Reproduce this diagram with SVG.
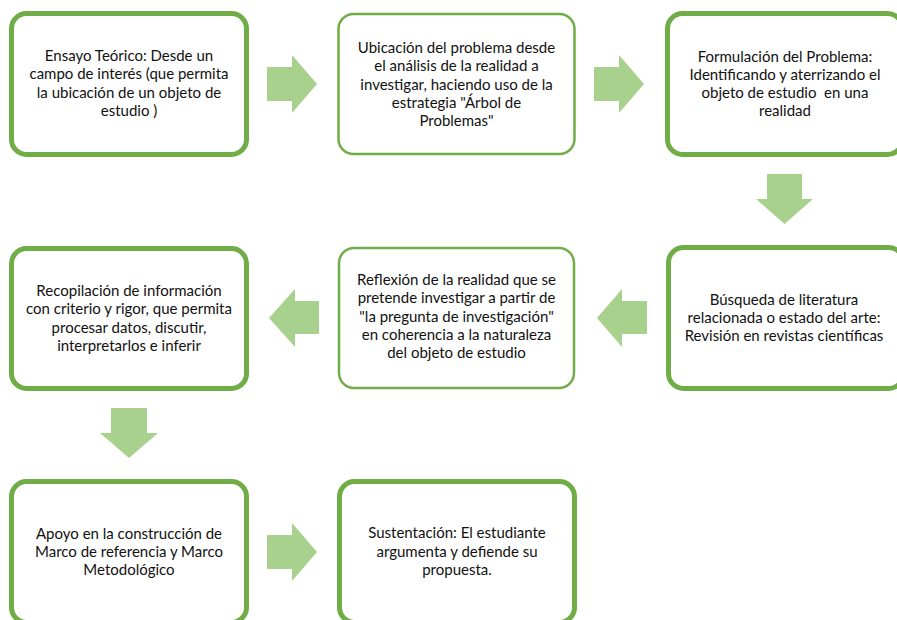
<svg xmlns="http://www.w3.org/2000/svg" width="897" height="620" viewBox="0 0 897 620">
<style>
.box{fill:#ffffff;stroke:#70AD47;}
.thick{stroke-width:5;}
.thin{stroke-width:2.5;}
.arr{fill:#A9D18E;stroke:none;}
text{font-family:Lato,"Open Sans","Liberation Sans",sans-serif;font-size:15px;fill:#111111;text-anchor:middle;}
</style>
<rect width="897" height="620" fill="#ffffff"/>
<g id="connectors">
<polygon class="arr" points="267,67 292,67 292,55 317,84 292,113 292,101 267,101"/>
<polygon class="arr" points="594,67 619,67 619,55 644,84 619,113 619,101 594,101"/>
<polygon class="arr" points="767,174 802,174 802,199 813,199 784.5,224 756,199 767,199"/>
<polygon class="arr" points="647,301 622,301 622,289 597,318 622,347 622,334 647,334"/>
<polygon class="arr" points="319,301 295,301 295,289 269,318 295,347 295,334 319,334"/>
<polygon class="arr" points="111,408 147,408 147,433 158,433 129,458 100,433 111,433"/>
<polygon class="arr" points="267,535 292,535 292,523 317,552 292,581 292,569 267,569"/>
</g>
<g id="n1">
<rect class="box thick" x="11.5" y="13.5" width="235" height="141" rx="15"/>
<text x="129" y="61">Ensayo Teórico: Desde un</text>
<text x="129" y="79.3">campo de interés (que permita</text>
<text x="129" y="97.6">la ubicación de un objeto de</text>
<text x="129" y="115.9">estudio )</text>
</g>
<g id="n2">
<rect class="box thin" x="338.5" y="14" width="236" height="140" rx="15"/>
<text x="456.5" y="52.9">Ubicación del problema desde</text>
<text x="456.5" y="71.2">el análisis de la realidad a</text>
<text x="456.5" y="89.5">investigar, haciendo uso de la</text>
<text x="456.5" y="107.8">estrategia "Árbol de</text>
<text x="456.5" y="126.1">Problemas"</text>
</g>
<g id="n3">
<rect class="box thick" x="667.5" y="13.5" width="235" height="141" rx="15"/>
<text x="785" y="61.5">Formulación del Problema:</text>
<text x="785" y="79.8">Identificando y aterrizando el</text>
<text x="785" y="98.1">objeto de estudio &#160;en una</text>
<text x="785" y="116.4">realidad</text>
</g>
<g id="n4">
<rect class="box thick" x="668.5" y="247.5" width="235" height="141" rx="15"/>
<text x="784" y="304.7">Búsqueda de literatura</text>
<text x="784" y="323">relacionada o estado del arte:</text>
<text x="784" y="341.3">Revisión en revistas científicas</text>
</g>
<g id="n5">
<rect class="box thin" x="339" y="248" width="235" height="140" rx="15"/>
<text x="456.5" y="284.9">Reflexión de la realidad que se</text>
<text x="456.5" y="303.2">pretende investigar a partir de</text>
<text x="456.5" y="321.5">"la pregunta de investigación"</text>
<text x="456.5" y="339.8">en coherencia a la naturaleza</text>
<text x="456.5" y="358.1">del objeto de estudio</text>
</g>
<g id="n6">
<rect class="box thick" x="11.5" y="248.5" width="235" height="140" rx="15"/>
<text x="129" y="296">Recopilación de información</text>
<text x="129" y="314.3">con criterio y rigor, que permita</text>
<text x="129" y="332.6">procesar datos, discutir,</text>
<text x="129" y="350.9">interpretarlos e inferir</text>
</g>
<g id="n7">
<rect class="box thick" x="11.5" y="481.5" width="235" height="141" rx="15"/>
<text x="129" y="538.7">Apoyo en la construcción de</text>
<text x="129" y="557">Marco de referencia y Marco</text>
<text x="129" y="575.3">Metodológico</text>
</g>
<g id="n8">
<rect class="box thick" x="339.5" y="481.5" width="235" height="141" rx="15"/>
<text x="457" y="538.2">Sustentación: El estudiante</text>
<text x="457" y="556.5">argumenta y defiende su</text>
<text x="457" y="574.8">propuesta.</text>
</g>
</svg>
